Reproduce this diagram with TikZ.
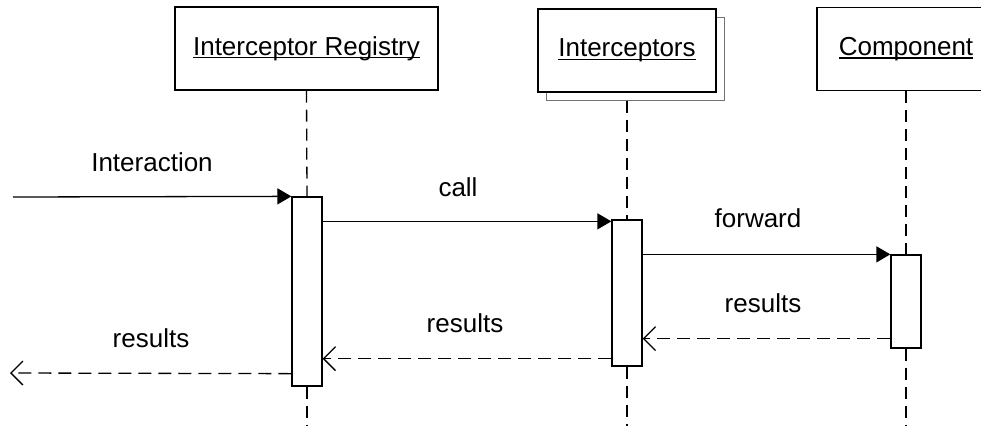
\documentclass[tikz,border=0pt]{standalone}
\usepackage{fontspec}
\setmainfont{Liberation Sans}
\usetikzlibrary{arrows.meta}
\usetikzlibrary{shadows}
\newcommand{\ulbl}[1]{\setbox0\hbox{#1}\rlap{\rule[-3.2pt]{\wd0}{1.3pt}}\box0}
\begin{document}
\begin{tikzpicture}[x=1pt, y=-1pt, line width=1.3pt,
		txt/.style={inner sep=0pt, font=\fontsize{26}{31}\selectfont},
		obj/.style={txt, draw, fill=white, minimum height=83pt},
		act/.style={draw, fill=white, minimum width=30pt, inner sep=0pt},
		life/.style={dash pattern=on 12pt off 7pt},
		sync/.style={-{Triangle[length=14pt, width=16pt]}},
		reply/.style={dash pattern=on 13pt off 7pt, -{Straight Barb[length=12pt, width=24pt]}}]
			\clip (0, 0) rectangle (981, 426);
			\node[obj, minimum width=263pt] (reg) at (306.5, 48.5) {\ulbl{Interceptor Registry}};
			\node[obj, minimum width=178pt, copy shadow={shadow xshift=8pt, shadow yshift=-8pt, draw=black!55, line width=0.9pt}] (int) at (627, 50.5) {\ulbl{Interceptors}};
			\node[obj, minimum width=178pt] (cmp) at (906, 49) {\ulbl{Component}};
			\node[act, minimum height=189pt] (regact) at (307, 291.5) {};
			\node[act, minimum height=146pt] (intact) at (627, 293) {};
			\node[act, minimum height=93pt] (cmpact) at (906, 301.5) {};
			\coordinate (regend) at (307, 426);
			\coordinate (intend) at (627, 426);
			\coordinate (cmpend) at (906, 426);
			\draw[life] (reg.south) -- (regact.north);
			\draw[life] (regact.south) -- (regend);
			\draw[life] ([yshift=-8pt]int.south) -- (intact.north);
			\draw[life] (intact.south) -- (intend);
			\draw[life] (cmp.south) -- (cmpact.north);
			\draw[life] (cmpact.south) -- (cmpend);
			\coordinate (start) at (13, 197);
			\draw[sync] (start) -- (regact.north west);
			\node[txt] (lint) at (152, 162) {Interaction};
			\draw[sync] ([yshift=-2pt]regact.east |- intact.north) -- ([yshift=-2pt]intact.north west);
			\node[txt] (lcall) at (458, 187) {call};
			\draw[sync] (intact.east |- cmpact.north) -- (cmpact.north west);
			\node[txt] (lfwd) at (758, 218) {forward};
			\coordinate (r1) at ([yshift=10pt]cmpact.south west);
			\draw[reply] (r1) -- (intact.east |- r1);
			\node[txt] (lres1) at (763, 303) {results};
			\coordinate (r2) at ([yshift=8pt]intact.south west);
			\draw[reply] (r2) -- (regact.east |- r2);
			\node[txt] (lres2) at (465, 323) {results};
			\coordinate (r3) at ([yshift=13pt]regact.south west);
			\coordinate (exit) at (10, 373);
			\draw[reply] (r3) -- (exit);
			\node[txt] (lres3) at (151, 338) {results};
		\end{tikzpicture}
\end{document}
